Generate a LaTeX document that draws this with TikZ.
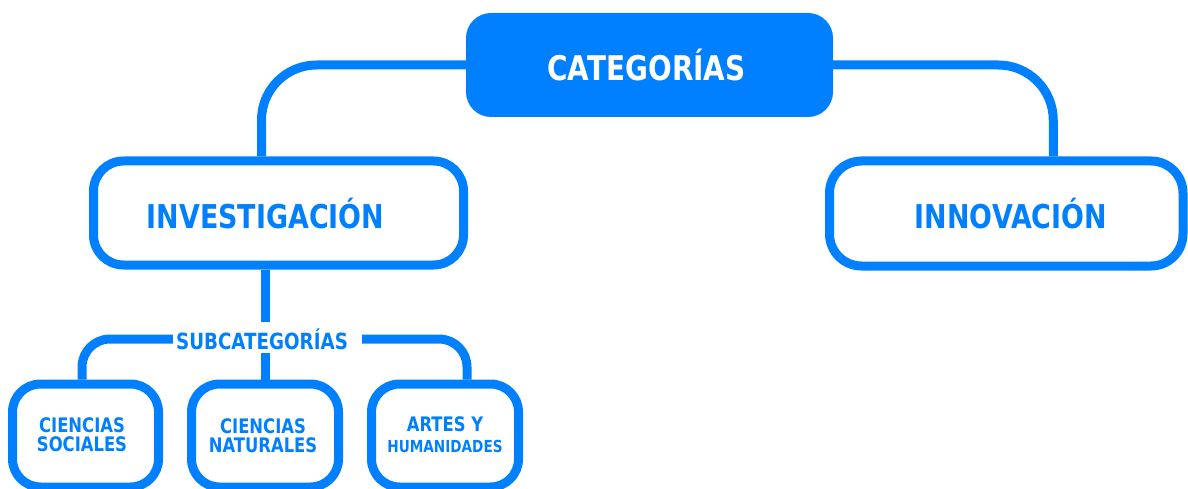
\documentclass[tikz,border=0pt]{standalone}
\usepackage{fontspec}
\setmainfont{DejaVu Sans}[FakeStretch=0.82]
\definecolor{azul}{RGB}{0,128,255}
\tikzset{
  box/.style={draw=azul, line width=9pt, rectangle, rounded corners=#1, inner sep=0pt, fill=white},
  box/.default=30pt,
  catbox/.style={fill=azul, rectangle, rounded corners=25pt, inner sep=0pt},
  conn/.style={draw=azul, line width=9pt},
  lbl/.style={text=azul, font=\bfseries, inner sep=0pt, align=center},
}
\begin{document}
\begin{tikzpicture}[x=1pt,y=-1pt]
\useasboundingbox (0,0) rectangle (1188,489);
% boxes
\node[catbox, minimum width=367pt, minimum height=104pt] (cat) at (649.5,65) {};
\node[box=30pt, minimum width=370pt, minimum height=104pt] (inv) at (278.5,213) {};
\node[box=32pt, minimum width=353.5pt, minimum height=105pt] (inn) at (1006.25,213.5) {};
\node[box=28pt, minimum width=146pt, minimum height=103pt] (soc) at (85.5,435.5) {};
\node[box=28pt, minimum width=147pt, minimum height=103pt] (nat) at (265,435.5) {};
\node[box=28pt, minimum width=147pt, minimum height=103pt] (art) at (445,435.5) {};
% labels
\node[lbl, text=white, font=\bfseries\fontsize{34}{38}\selectfont] (catl) at (646.5,65) {CATEGORÍAS};
\node[lbl, font=\bfseries\fontsize{32.8}{36}\selectfont] (invl) at (265.5,213.5) {INVESTIGACIÓN};
\node[lbl, font=\bfseries\fontsize{32.8}{36}\selectfont] (innl) at (1011,213.5) {INNOVACIÓN};
\node[lbl, font=\bfseries\fontsize{22.3}{26}\selectfont] (sub) at (262,339) {SUBCATEGORÍAS};
\node[lbl, font=\bfseries\fontsize{20}{18.5}\selectfont] (socl) at (82,434.5) {CIENCIAS\\SOCIALES};
\node[lbl, font=\bfseries\fontsize{20}{19.5}\selectfont] (natl) at (263,435.5) {CIENCIAS\\NATURALES};
\node[lbl, font=\bfseries\fontsize{20}{21}\selectfont] (artl) at (445,435) {ARTES Y\\{\fontsize{16.6}{21}\selectfont HUMANIDADES}};
% connectors
\coordinate (subtop) at (265,322);
\coordinate (subbot) at (265,353);
\draw[conn, rounded corners=55pt] (cat.west) -| ([xshift=-17pt]inv.north);
\draw[conn, rounded corners=55pt] (cat.east) -| ([xshift=47pt]inn.north);
\draw[conn] (inv.south -| nat.north) -- (subtop);
\draw[conn] (subbot) -- (nat.north);
\draw[conn, rounded corners=28pt] ([xshift=-3pt]sub.west) -| ([xshift=-3.5pt]soc.north);
\draw[conn, rounded corners=28pt] ([xshift=14pt]sub.east) -| ([xshift=22pt]art.north);
\end{tikzpicture}
\end{document}
